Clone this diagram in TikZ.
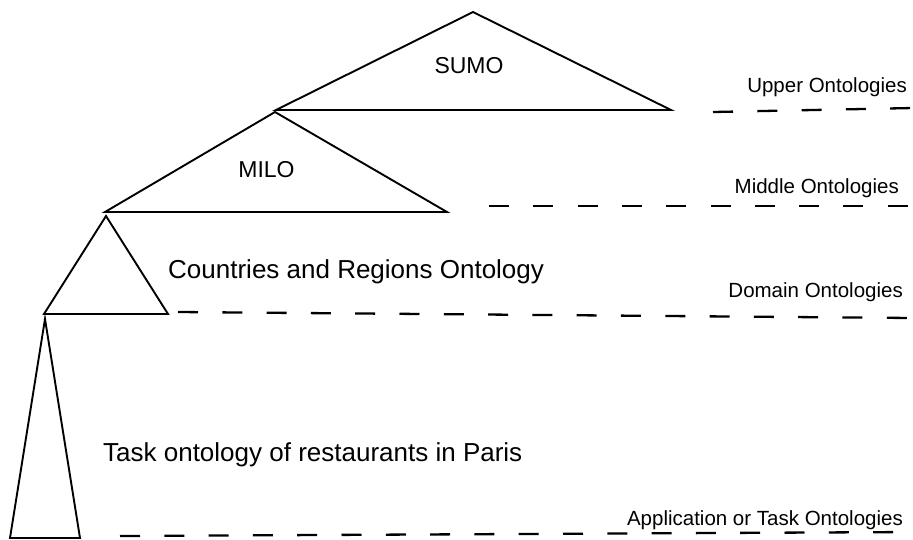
\documentclass[tikz,border=0pt]{standalone}
\usepackage{fontspec}
\setmainfont{Liberation Sans}
\begin{document}
\begin{tikzpicture}[x=1pt,y=-1pt,
  tri/.style={draw=black,line width=1.9pt,line join=miter},
  level/.style={draw=black,line width=2.3pt,dash pattern=on 20pt off 24.3pt},
  onto/.style={inner sep=0pt,font=\fontsize{23}{27}\selectfont},
  bigtext/.style={inner sep=0pt,anchor=base west,font=\fontsize{26}{30}\selectfont},
  levellabel/.style={inner sep=0pt,anchor=base east,font=\fontsize{20.5}{24}\selectfont}]
\useasboundingbox (0,0) rectangle (913,539);

% triangle corners
\coordinate (sumoT) at (473,12);
\coordinate (sumoL) at (276,110);
\coordinate (sumoR) at (671,110);
\coordinate (miloT) at (275,112);
\coordinate (miloL) at (105,212);
\coordinate (miloR) at (447,212);
\coordinate (crT) at (106,216);
\coordinate (crL) at (44,314);
\coordinate (crR) at (168,314);
\coordinate (taskT) at (45,319);
\coordinate (taskL) at (10,538);
\coordinate (taskR) at (80,538);

% ontology triangles
\draw[tri] (sumoT) -- (sumoR) -- (sumoL) -- cycle;
\draw[tri] (miloT) -- (miloR) -- (miloL) -- cycle;
\draw[tri] (crT) -- (crR) -- (crL) -- cycle;
\draw[tri] (taskT) -- (taskR) -- (taskL) -- cycle;

% level separators
\coordinate (upA) at (713,112);
\coordinate (upB) at (913,108);
\coordinate (midA) at (489,206);
\coordinate (midB) at (913,206);
\coordinate (domA) at (178,312);
\coordinate (domB) at (913,318);
\coordinate (appA) at (120,536);
\coordinate (appB) at (913,532);
\draw[level] (upA) -- (upB);
\draw[level] (midA) -- (midB);
\draw[level] (domA) -- (domB);
\draw[level] (appA) -- (appB);

% ontology names
\node[onto,anchor=base] (sumo) at (469,73) {SUMO};
\node[onto,anchor=base] (milo) at (266.5,177) {MILO};
\node[bigtext] (countries) at (168,278) {Countries and Regions Ontology};
\node[bigtext] (task) at (103,461) {Task ontology of restaurants in Paris};

% level names
\node[levellabel] (upper) at (907,92) {Upper Ontologies};
\node[levellabel] (middle) at (899,193) {Middle Ontologies};
\node[levellabel] (domain) at (903,297) {Domain Ontologies};
\node[levellabel] (application) at (903,525) {Application or Task Ontologies};
\end{tikzpicture}
\end{document}
